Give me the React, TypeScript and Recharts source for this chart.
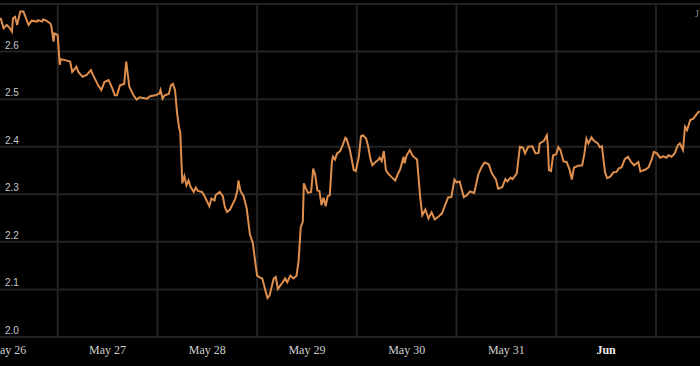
import {
  LineChart,
  Line,
  XAxis,
  YAxis,
  CartesianGrid,
  ReferenceLine,
} from "recharts";

// hours since May 26 00:00
const hours = [
  -1.75, -1, -0.25, 0.5, 1, 1.25, 1.75, 2.25, 2.5, 3,
  3.75, 4.25, 5, 5.75, 7, 7.25, 8.25, 8.5, 9.25, 10.25,
  10.5, 11, 11.25, 12, 12.5, 12.75, 13.75, 15, 15.5, 16.5,
  17, 18, 19, 20, 20.5, 21.75, 22.5, 23.25, 24.25, 25,
  25.75, 26.25, 27, 28, 28.5, 29.25, 30.25, 31, 31.75, 33.5,
  34.25, 35.5, 36.5, 36.75, 37.25, 37.75, 38.75, 39.25, 39.75, 40.25,
  40.75, 41.25, 41.5, 42, 42.5, 43, 43.5, 44, 44.75, 45.25,
  45.75, 46.75, 47.25, 48, 48.5, 49, 49.75, 50, 51, 51.75,
  52.25, 52.75, 53.5, 54.75, 55.25, 55.5, 56, 56.75, 57.5, 58.25,
  59, 59.5, 60, 60.75, 61.25, 62, 62.5, 63, 64, 64.5,
  65, 66, 66.75, 67.25, 68, 68.75, 69.5, 70, 70.5, 71,
  71.25, 71.75, 72.25, 73, 73.5, 74, 74.5, 75, 75.5, 76,
  76.5, 77, 77.5, 78, 78.25, 78.75, 79.25, 80, 80.5, 81.25,
  81.5, 82.25, 82.75, 83.25, 83.75, 84.5, 85, 85.5, 86.25, 86.75,
  87.25, 87.75, 88.5, 89.25, 89.5, 90, 90.5, 91, 91.5, 92.5,
  93.25, 93.75, 94.5, 95.25, 95.5, 96, 96.75, 97.5, 98.5, 99.25,
  99.75, 100.5, 101.25, 102, 102.75, 103.75, 104.5, 105.25, 106, 106.75,
  107.5, 108, 108.75, 109.75, 110.5, 111.25, 112.25, 113.25, 114, 114.75,
  115.75, 116.5, 117.5, 118, 119, 119.75, 120.25, 121, 121.5, 122.5,
  123.25, 124, 124.5, 125.25, 126.25, 127, 127.75, 128, 129, 129.75,
  130, 130.25, 130.75, 131.25, 132, 132.5, 133, 133.75, 134.5, 135.25,
  135.75, 136.25, 137.25, 138.25, 138.75, 139.25, 139.75, 140.5, 141, 142,
  142.5, 143, 143.25, 143.75, 144.25, 145, 145.75, 146.5, 147, 147.75,
  148.5, 149.25, 150, 150.75, 151.75, 152.25, 153.5, 154.25, 155, 155.5,
  156.25, 157, 157.75, 158.5, 159, 159.75, 160.5, 161.25, 161.75, 162.5,
  163, 163.5, 164.25, 165, 165.75, 166.25, 166.5,
];

const prices = [
  2.671, 2.649, 2.656, 2.649, 2.642, 2.67, 2.673, 2.656, 2.666, 2.684,
  2.684, 2.673, 2.656, 2.665, 2.663, 2.666, 2.663, 2.668, 2.665, 2.659,
  2.652, 2.621, 2.638, 2.635, 2.572, 2.584, 2.582, 2.579, 2.557, 2.568,
  2.557, 2.547, 2.551, 2.561, 2.551, 2.529, 2.519, 2.536, 2.54, 2.526,
  2.508, 2.508, 2.529, 2.532, 2.579, 2.526, 2.508, 2.499, 2.504, 2.501,
  2.506, 2.508, 2.512, 2.519, 2.501, 2.508, 2.511, 2.529, 2.532, 2.519,
  2.47, 2.438, 2.431, 2.323, 2.338, 2.319, 2.329, 2.315, 2.305, 2.314,
  2.307, 2.305, 2.298, 2.284, 2.275, 2.291, 2.287, 2.298, 2.305, 2.296,
  2.273, 2.263, 2.268, 2.291, 2.308, 2.329, 2.307, 2.296, 2.27, 2.217,
  2.196, 2.161, 2.129, 2.125, 2.123, 2.098, 2.082, 2.087, 2.123, 2.126,
  2.101, 2.113, 2.123, 2.115, 2.129, 2.123, 2.129, 2.161, 2.231, 2.242,
  2.323, 2.312, 2.303, 2.305, 2.354, 2.34, 2.308, 2.307, 2.277, 2.293,
  2.275, 2.296, 2.298, 2.368, 2.379, 2.373, 2.386, 2.391, 2.401, 2.419,
  2.417, 2.396, 2.375, 2.351, 2.349, 2.379, 2.422, 2.424, 2.417, 2.4,
  2.375, 2.361, 2.368, 2.373, 2.377, 2.37, 2.391, 2.351, 2.344, 2.335,
  2.329, 2.34, 2.354, 2.379, 2.365, 2.382, 2.393, 2.38, 2.373, 2.294,
  2.256, 2.268, 2.249, 2.262, 2.247, 2.254, 2.26, 2.277, 2.294, 2.294,
  2.331, 2.325, 2.327, 2.294, 2.298, 2.306, 2.303, 2.342, 2.357, 2.367,
  2.363, 2.344, 2.331, 2.312, 2.315, 2.332, 2.327, 2.335, 2.332, 2.344,
  2.4, 2.398, 2.386, 2.4, 2.401, 2.386, 2.387, 2.407, 2.412, 2.424,
  2.399, 2.351, 2.349, 2.382, 2.384, 2.399, 2.393, 2.369, 2.368, 2.351,
  2.331, 2.356, 2.36, 2.361, 2.384, 2.417, 2.407, 2.42, 2.413, 2.407,
  2.399, 2.401, 2.382, 2.346, 2.334, 2.337, 2.346, 2.347, 2.354, 2.357,
  2.374, 2.379, 2.368, 2.361, 2.368, 2.348, 2.352, 2.357, 2.374, 2.389,
  2.386, 2.377, 2.38, 2.377, 2.382, 2.379, 2.386, 2.403, 2.407, 2.393,
  2.442, 2.435, 2.456, 2.459, 2.468, 2.473, 2.475,
];

const dayTicks = [0, 24, 48, 72, 96, 120, 144];
const dayLabels = ["May 26", "May 27", "May 28", "May 29", "May 30", "May 31", "Jun"];
const gridHours = [12, 36, 60, 84, 108, 132, 156];
const priceTicks = [2.0, 2.1, 2.2, 2.3, 2.4, 2.5, 2.6, 2.7];

const data = hours.map((t, i) => ({ t, price: prices[i] }));

const GRID = "#222";

const XTick = ({ x, payload }: any) => {
  const label = dayLabels[dayTicks.indexOf(payload.value)];
  return (
    <text
      x={x}
      y={354}
      textAnchor="middle"
      fill={label === "Jun" ? "#e8e8e8" : "#cfcfcf"}
      fontFamily="'Liberation Serif', serif"
      fontSize={12}
      fontWeight={label === "Jun" ? "bold" : "normal"}
    >
      {label}
    </text>
  );
};

const YTick = ({ y, payload }: any) => {
  if (payload.value >= 2.7) return <g />;
  return (
    <text
      x={5}
      y={y - 3}
      fill="#c8c8c8"
      fontFamily="'Liberation Sans', Arial, sans-serif"
      fontSize={10}
    >
      {payload.value.toFixed(1)}
    </text>
  );
};

export default function App() {
  return (
    <div style={{ position: "relative", width: 700, height: 366, background: "#000" }}>
      <style>{"body{margin:0;background:#000}"}</style>
      <LineChart
        width={700}
        height={366}
        data={data}
        margin={{ top: 4, right: 0, bottom: 0, left: 0 }}
      >
        <CartesianGrid vertical={false} stroke={GRID} strokeWidth={2} />
        {gridHours.map((h) => (
          <ReferenceLine key={h} x={h} stroke={GRID} strokeWidth={2} />
        ))}
        <XAxis
          dataKey="t"
          type="number"
          domain={[-1.88, 166.6]}
          allowDataOverflow
          ticks={dayTicks}
          interval={0}
          height={29}
          axisLine={false}
          tickLine={false}
          tick={XTick}
        />
        <YAxis
          type="number"
          domain={[2.0, 2.7]}
          ticks={priceTicks}
          interval={0}
          mirror
          width={30}
          axisLine={false}
          tickLine={false}
          tick={YTick}
        />
        <Line
          type="linear"
          dataKey="price"
          stroke="#de8f4e"
          strokeWidth={2}
          dot={false}
          isAnimationActive={false}
        />
      </LineChart>
      <span
        style={{
          position: "absolute",
          left: 695,
          top: 8,
          fontSize: 10,
          color: "#8a8a8a",
          fontFamily: "'Liberation Serif', serif",
        }}
      >
        J
      </span>
    </div>
  );
}
